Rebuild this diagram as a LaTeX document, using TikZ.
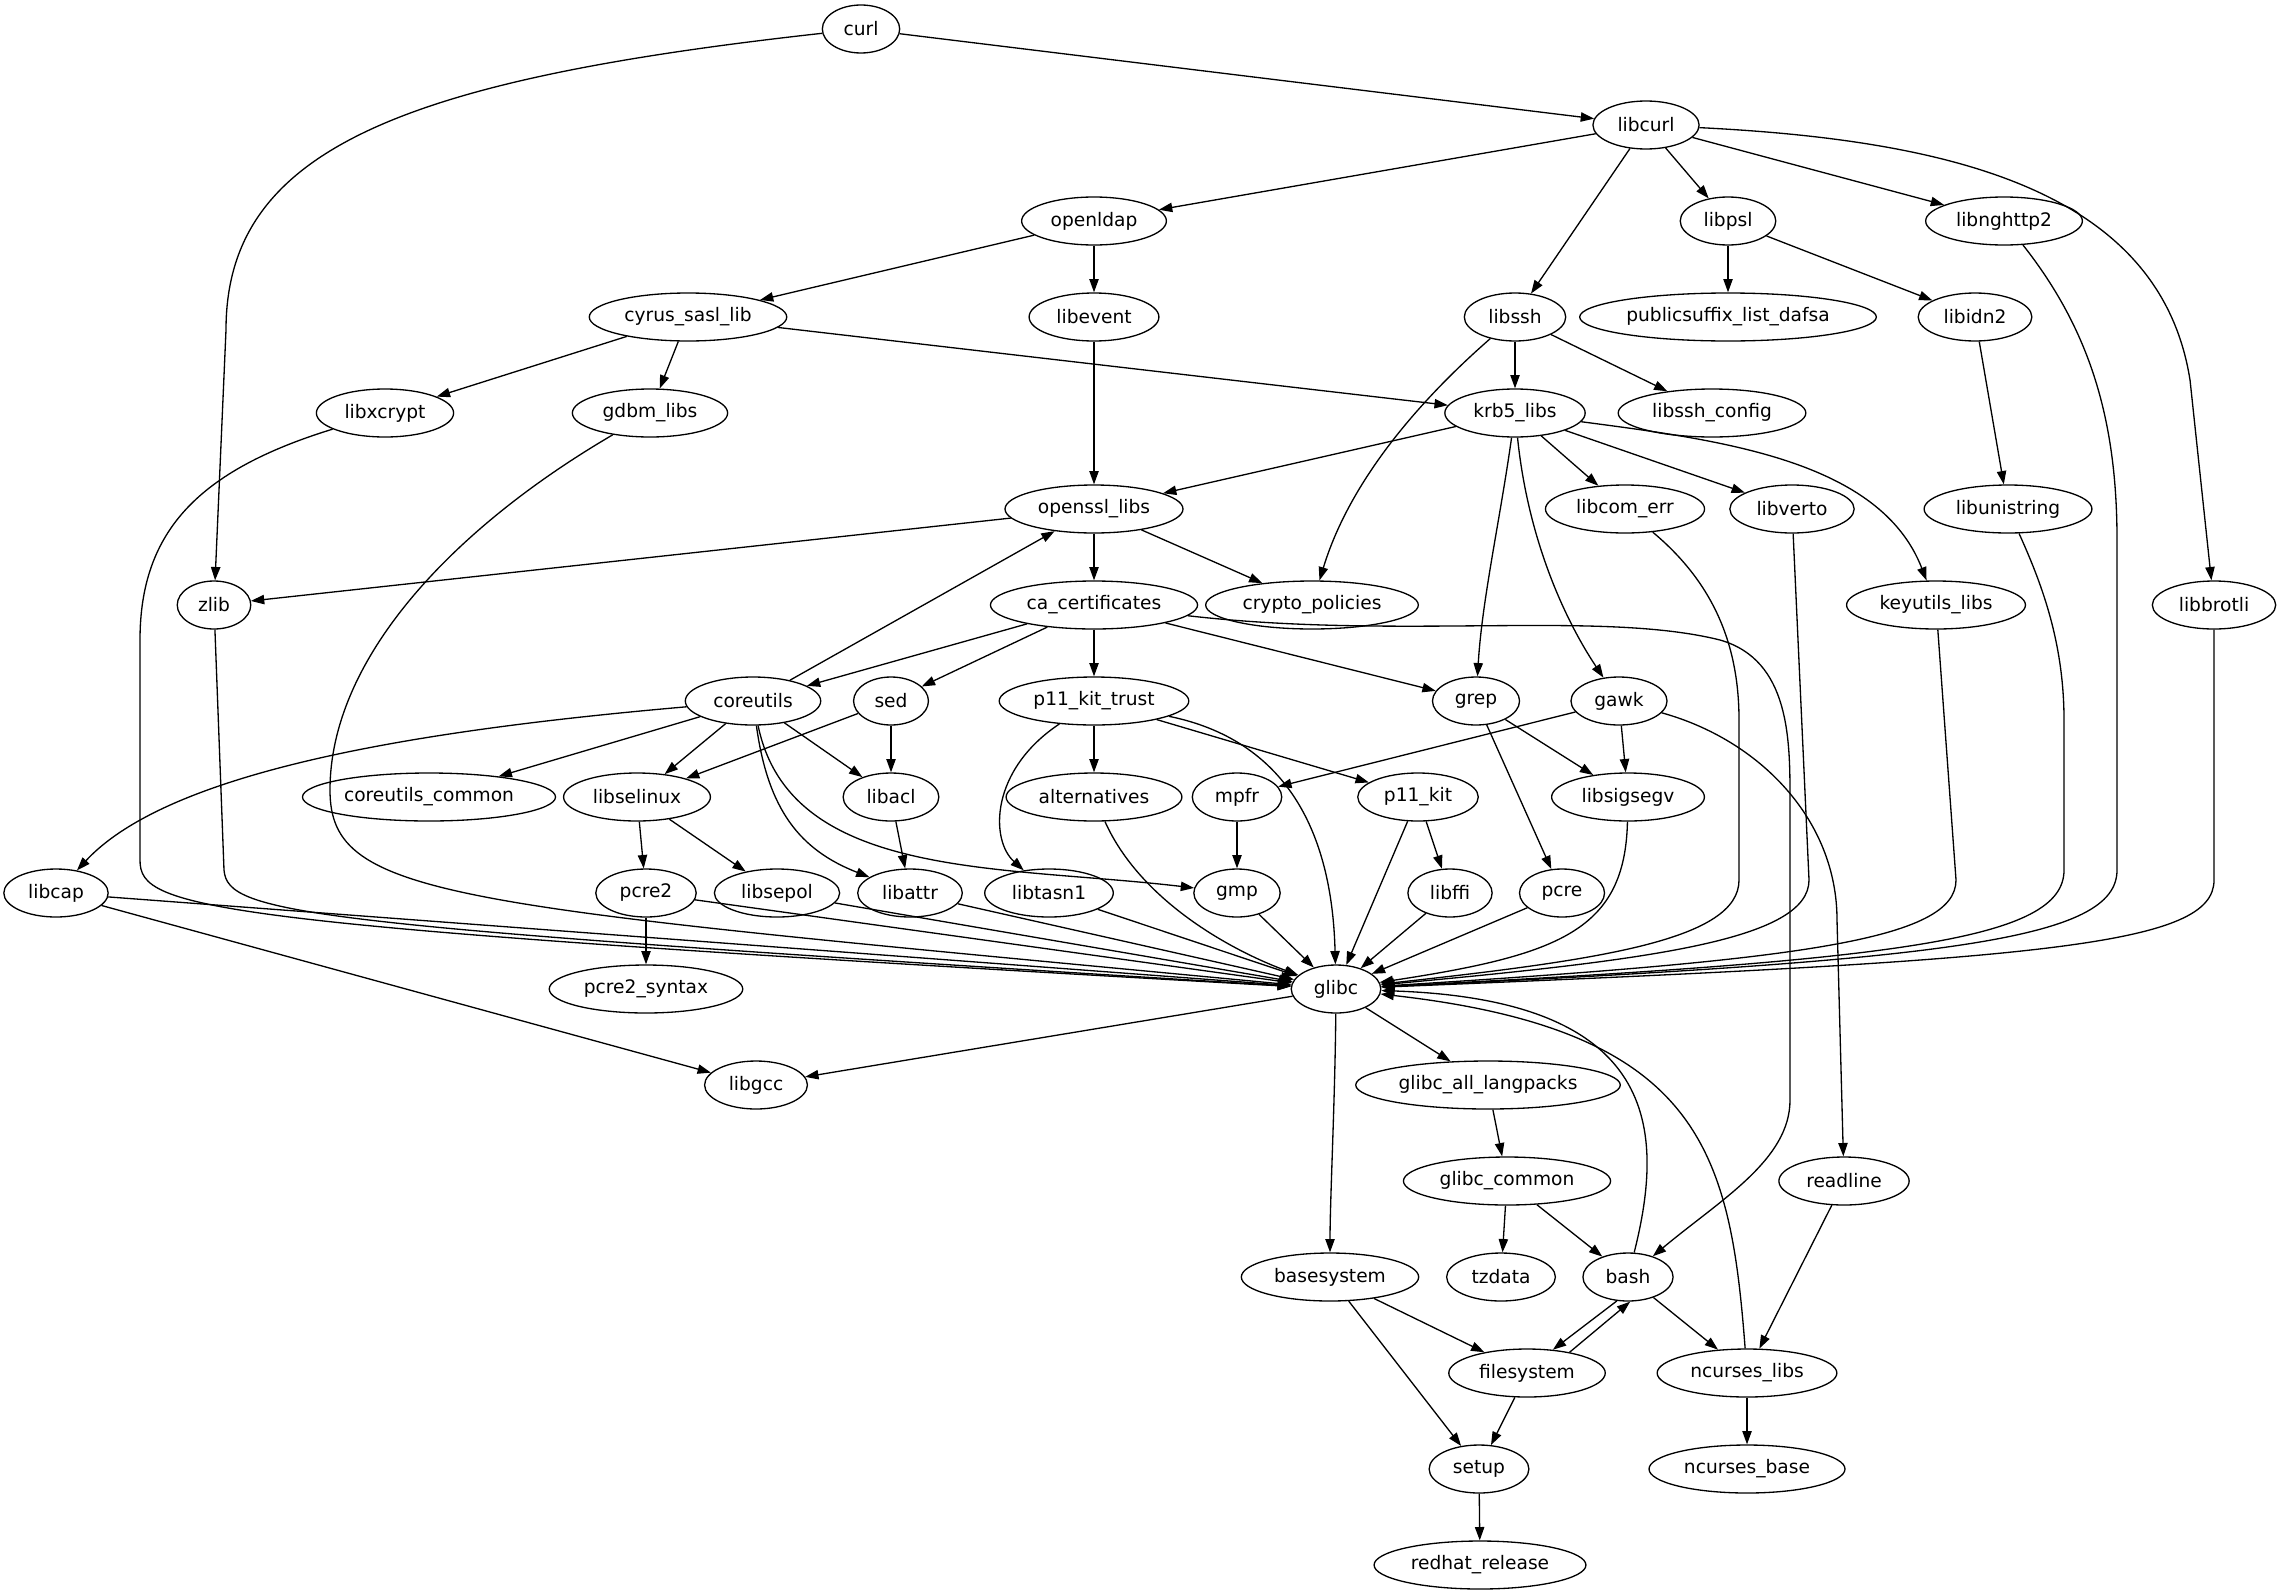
\documentclass[tikz,border=0pt]{standalone}
\usepackage{fontspec}
\setmainfont{DejaVu Sans}
\usetikzlibrary{arrows.meta,shapes.geometric}
\newcommand{\pkgfont}{\fontsize{10.6}{12}\selectfont}
\newcommand{\pk}[1]{\makebox[0.92\width]{#1}}
\tikzstyle{pkg} = [draw, ellipse, line width=0.75pt, minimum height=0.96cm, minimum width=1.44cm, inner xsep=0.226cm, inner ysep=0pt, font=\pkgfont]
\tikzstyle{dep} = [line width=0.75pt, -{Triangle[length=2.67mm,width=1.87mm]}]

\begin{document}
\begin{tikzpicture}[x=0.02cm, y=-0.02cm]
\useasboundingbox (0,0) rectangle (2287,1595);

% Packages, one row per rank
\node[pkg] (curl) at (861,29) {\pk{curl}};
\node[pkg] (libcurl) at (1646,125) {\pk{libcurl}};
\node[pkg] (openldap) at (1094,221) {\pk{openldap}};
\node[pkg] (libpsl) at (1728,221) {\pk{libpsl}};
\node[pkg] (libnghttp) at (2004,221) {\pk{libnghttp2}};
\node[pkg] (cyrus) at (688,317) {\pk{cyrus\_sasl\_lib}};
\node[pkg] (libevent) at (1094,317) {\pk{libevent}};
\node[pkg] (libssh) at (1515,317) {\pk{libssh}};
\node[pkg] (psl) at (1728,317) {\pk{publicsuffix\_list\_dafsa}};
\node[pkg] (libidn) at (1975,317) {\pk{libidn2}};
\node[pkg] (libxcrypt) at (385,413) {\pk{libxcrypt}};
\node[pkg] (gdbm) at (650,413) {\pk{gdbm\_libs}};
\node[pkg] (krb) at (1515,413) {\pk{krb5\_libs}};
\node[pkg] (sshconf) at (1712,413) {\pk{libssh\_config}};
\node[pkg] (openssl) at (1094,509) {\pk{openssl\_libs}};
\node[pkg] (comerr) at (1625,509) {\pk{libcom\_err}};
\node[pkg] (libverto) at (1792,509) {\pk{libverto}};
\node[pkg] (unistring) at (2008,509) {\pk{libunistring}};
\node[pkg] (zlib) at (214,605) {\pk{zlib}};
\node[pkg] (cacert) at (1094,605) {\pk{ca\_certificates}};
\node[pkg] (crypto) at (1312,605) {\pk{crypto\_policies}};
\node[pkg] (keyutils) at (1936,605) {\pk{keyutils\_libs}};
\node[pkg] (brotli) at (2214,605) {\pk{libbrotli}};
\node[pkg] (coreutils) at (753,701) {\pk{coreutils}};
\node[pkg] (sed) at (891,701) {\pk{sed}};
\node[pkg] (p11trust) at (1094,701) {\pk{p11\_kit\_trust}};
\node[pkg] (grep) at (1476,701) {\pk{grep}};
\node[pkg] (gawk) at (1619,701) {\pk{gawk}};
\node[pkg] (cucommon) at (429,797) {\pk{coreutils\_common}};
\node[pkg] (selinux) at (637,797) {\pk{libselinux}};
\node[pkg] (libacl) at (891,797) {\pk{libacl}};
\node[pkg] (altern) at (1094,797) {\pk{alternatives}};
\node[pkg] (mpfr) at (1237,797) {\pk{mpfr}};
\node[pkg] (p11kit) at (1418,797) {\pk{p11\_kit}};
\node[pkg] (sigsegv) at (1628,797) {\pk{libsigsegv}};
\node[pkg] (libcap) at (56,893) {\pk{libcap}};
\node[pkg] (pcretwo) at (646,893) {\pk{pcre2}};
\node[pkg] (sepol) at (777,893) {\pk{libsepol}};
\node[pkg] (libattr) at (910,893) {\pk{libattr}};
\node[pkg] (tasn) at (1049,893) {\pk{libtasn1}};
\node[pkg] (gmp) at (1237,893) {\pk{gmp}};
\node[pkg] (libffi) at (1450,893) {\pk{libffi}};
\node[pkg] (pcre) at (1562,893) {\pk{pcre}};
\node[pkg] (glibc) at (1336,989) {\pk{glibc}};
\node[pkg] (pcresyntax) at (646,989) {\pk{pcre2\_syntax}};
\node[pkg] (libgcc) at (756,1085) {\pk{libgcc}};
\node[pkg] (langpacks) at (1488,1085) {\pk{glibc\_all\_langpacks}};
\node[pkg] (gcommon) at (1507,1181) {\pk{glibc\_common}};
\node[pkg] (readline) at (1844,1181) {\pk{readline}};
\node[pkg] (basesys) at (1330,1277) {\pk{basesystem}};
\node[pkg] (tzdata) at (1501,1277) {\pk{tzdata}};
\node[pkg] (bash) at (1628,1277) {\pk{bash}};
\node[pkg] (filesys) at (1527,1373) {\pk{filesystem}};
\node[pkg] (ncurses) at (1747,1373) {\pk{ncurses\_libs}};
\node[pkg] (setup) at (1479,1469) {\pk{setup}};
\node[pkg] (ncbase) at (1747,1469) {\pk{ncurses\_base}};
\node[pkg] (redhat) at (1480,1565) {\pk{redhat\_release}};

% Upper part
\draw[dep] (curl) -- (libcurl);
\draw[dep] (curl) .. controls (400,80) and (226,150) .. (226,330) -- (zlib);
\draw[dep] (libcurl) -- (openldap);
\draw[dep] (libcurl) -- (libssh);
\draw[dep] (libcurl) -- (libpsl);
\draw[dep] (libcurl) -- (libnghttp);
\draw[dep] (libcurl) .. controls (1950,140) and (2160,190) .. (2190,380) -- (brotli);
\draw[dep] (openldap) -- (cyrus);
\draw[dep] (openldap) -- (libevent);
\draw[dep] (libpsl) -- (psl);
\draw[dep] (libpsl) -- (libidn);
\draw[dep] (cyrus) -- (libxcrypt);
\draw[dep] (cyrus) -- (gdbm);
\draw[dep] (cyrus) -- (krb);
\draw[dep] (libevent) -- (openssl);
\draw[dep] (libssh) -- (krb);
\draw[dep] (libssh) -- (sshconf);
\draw[dep] (libssh) .. controls (1420,400) and (1350,480) .. (crypto);
\draw[dep] (libidn) -- (unistring);
\draw[dep] (krb) -- (openssl);
\draw[dep] (krb) -- (comerr);
\draw[dep] (krb) -- (libverto);
\draw[dep] (krb) .. controls (1720,440) and (1880,460) .. (keyutils);
\draw[dep] (krb) .. controls (1500,520) and (1482,600) .. (grep);
\draw[dep] (krb) .. controls (1528,540) and (1565,620) .. (gawk);
\draw[dep] (openssl) -- (zlib);
\draw[dep] (openssl) -- (cacert);
\draw[dep] (openssl) -- (crypto);

% Middle part
\draw[dep] (cacert) -- (coreutils);
\draw[dep] (cacert) -- (sed);
\draw[dep] (cacert) -- (p11trust);
\draw[dep] (cacert) -- (grep);
\draw[dep] (cacert) .. controls (1400,640) and (1600,610) .. (1720,640) .. controls (1790,660) and (1790,740) .. (1790,800) -- (1790,1100) .. controls (1790,1160) and (1720,1200) .. (bash);
\draw[dep] (coreutils) -- (openssl);
\draw[dep] (coreutils) -- (cucommon);
\draw[dep] (coreutils) -- (selinux);
\draw[dep] (coreutils) -- (libacl);
\draw[dep] (coreutils) .. controls (420,730) and (170,770) .. (libcap);
\draw[dep] (coreutils) .. controls (768,810) and (800,850) .. (libattr);
\draw[dep] (coreutils) .. controls (790,880) and (1000,865) .. (gmp);
\draw[dep] (sed) -- (selinux);
\draw[dep] (sed) -- (libacl);
\draw[dep] (p11trust) -- (altern);
\draw[dep] (p11trust) -- (p11kit);
\draw[dep] (p11trust) .. controls (990,770) and (990,840) .. (tasn);
\draw[dep] (p11trust) .. controls (1285,740) and (1332,830) .. (glibc);
\draw[dep] (grep) -- (sigsegv);
\draw[dep] (grep) -- (pcre);
\draw[dep] (gawk) -- (mpfr);
\draw[dep] (gawk) -- (sigsegv);
\draw[dep] (gawk) .. controls (1760,740) and (1837,820) .. (1837,920) -- (readline);
\draw[dep] (selinux) -- (pcretwo);
\draw[dep] (selinux) -- (sepol);
\draw[dep] (libacl) -- (libattr);
\draw[dep] (mpfr) -- (gmp);
\draw[dep] (p11kit) -- (libffi);
\draw[dep] (pcretwo) -- (pcresyntax);
\draw[dep] (libcap) -- (libgcc);

% Everything into glibc
\draw[dep] (libcap) -- (glibc);
\draw[dep] (pcretwo) -- (glibc);
\draw[dep] (sepol) -- (glibc);
\draw[dep] (libattr) -- (glibc);
\draw[dep] (tasn) -- (glibc);
\draw[dep] (gmp) -- (glibc);
\draw[dep] (p11kit) -- (glibc);
\draw[dep] (libffi) -- (glibc);
\draw[dep] (pcre) -- (glibc);
\draw[dep] (altern) .. controls (1140,900) and (1230,950) .. (glibc);
\draw[dep] (sigsegv) .. controls (1625,930) and (1560,955) .. (glibc);
\draw[dep] (zlib) -- (224,870) .. controls (228,915) and (300,925) .. (glibc);
\draw[dep] (libxcrypt) .. controls (200,470) and (140,530) .. (140,640) -- (140,860) .. controls (140,910) and (200,925) .. (glibc);
\draw[dep] (gdbm) .. controls (450,530) and (330,660) .. (330,790) .. controls (330,900) and (450,905) .. (glibc);
\draw[dep] (comerr) .. controls (1710,580) and (1739,640) .. (1739,720) -- (1739,880) .. controls (1739,940) and (1600,960) .. (glibc);
\draw[dep] (libverto) -- (1809,880) .. controls (1809,940) and (1650,960) .. (glibc);
\draw[dep] (keyutils) -- (1956,880) .. controls (1956,940) and (1800,960) .. (glibc);
\draw[dep] (unistring) .. controls (2040,580) and (2064,640) .. (2064,720) -- (2064,870) .. controls (2064,940) and (1900,960) .. (glibc);
\draw[dep] (libnghttp) .. controls (2090,330) and (2117,420) .. (2117,540) -- (2117,870) .. controls (2117,940) and (1950,960) .. (glibc);
\draw[dep] (brotli) -- (2214,880) .. controls (2214,945) and (2050,960) .. (glibc);

% Lower part
\draw[dep] (glibc) -- (libgcc);
\draw[dep] (glibc) -- (langpacks);
\draw[dep] (glibc) .. controls (1335,1100) and (1330,1200) .. (basesys);
\draw[dep] (langpacks) -- (gcommon);
\draw[dep] (gcommon) -- (tzdata);
\draw[dep] (gcommon) -- (bash);
\draw[dep] (bash) .. controls (1665,1130) and (1660,1000) .. (glibc);
\draw[dep] (bash.245) -- (filesys.42);
\draw[dep] (filesys.26) -- (bash.275);
\draw[dep] (bash) -- (ncurses);
\draw[dep] (ncurses) .. controls (1730,1150) and (1700,1030) .. (glibc);
\draw[dep] (ncurses) -- (ncbase);
\draw[dep] (readline) -- (ncurses);
\draw[dep] (basesys) -- (filesys);
\draw[dep] (basesys) -- (setup);
\draw[dep] (filesys) -- (setup);
\draw[dep] (setup) -- (redhat);
\end{tikzpicture}
\end{document}
